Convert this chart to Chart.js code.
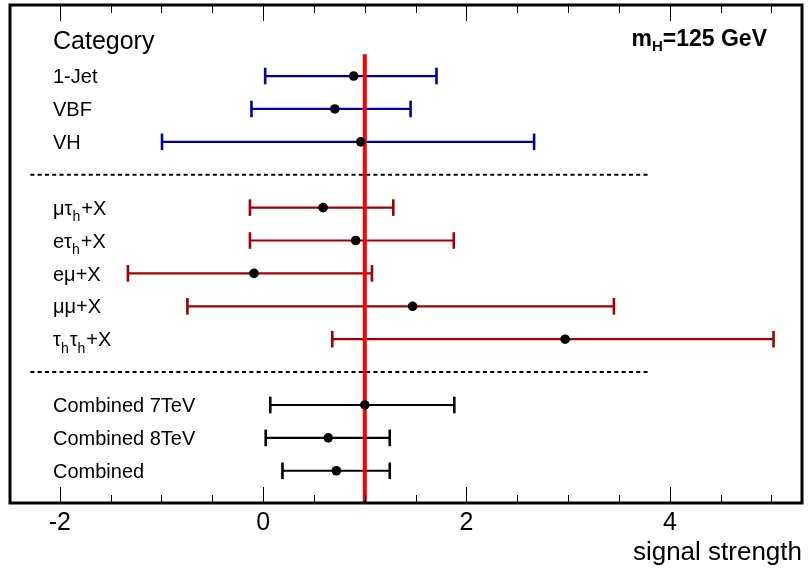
<!DOCTYPE html>
<html><head><meta charset="utf-8">
<script src="https://cdn.jsdelivr.net/npm/chart.js@4/dist/chart.umd.min.js"></script>
<style>html,body{margin:0;padding:0;background:#fff}#wrap{width:810px;height:574px;position:relative}</style>
</head><body><div id="wrap"><canvas id="c" width="810" height="574"></canvas></div>
<script>
// ---- data ----
const categories = ['1-Jet','VBF','VH','μτ_h+X','eτ_h+X','eμ+X','μμ+X','τ_hτ_h+X','Combined 7TeV','Combined 8TeV','Combined'];
const rowIndex   = [1,2,3,5,6,7,8,9,11,12,13];
const central    = [0.89, 0.705, 0.96, 0.59, 0.91, -0.09, 1.47, 2.97, 1.00, 0.64, 0.72];
const lower      = [0.02, -0.115, -0.995, -0.13, -0.13, -1.33, -0.745, 0.68, 0.07, 0.025, 0.19];
const upper      = [1.705, 1.45, 2.665, 1.28, 1.875, 1.07, 3.45, 5.02, 1.88, 1.245, 1.245];
const groupOf    = ['jet','jet','jet','chan','chan','chan','chan','chan','comb','comb','comb'];
const separatorRows = [4, 10];
const tickValues = [-2,-1.5,-1,-0.5,0,0.5,1,1.5,2,2.5,3,3.5,4,4.5,5];
const tickLabels = ['-2','0','2','4'];
const labeledTicks = [-2,0,2,4];
const smReference = 1;
const headerText = 'Category';
const xTitle = 'signal strength';

const colors = {jet:'#0000a0', chan:'#a00000', comb:'#000000'};
const FONT = '"Liberation Sans", Arial, Helvetica, sans-serif';

const datasets = [];
// central values (on top)
datasets.push({
  type:'scatter', order:0,
  data: central.map((v,i)=>({x:v, y:rowIndex[i]})),
  pointStyle:'circle', pointRadius:4.8, backgroundColor:'#000', borderWidth:0
});
// SM reference line
datasets.push({
  type:'line', order:1, showLine:true,
  data:[{x:smReference,y:0.34},{x:smReference,y:13.98}],
  borderColor:'#ff0000', borderWidth:4, pointRadius:0, fill:false
});
// error bars
central.forEach((v,i)=>{
  const c = colors[groupOf[i]];
  datasets.push({
    type:'line', order:2, showLine:true,
    data:[{x:lower[i],y:rowIndex[i]},{x:upper[i],y:rowIndex[i]}],
    borderColor:c, borderWidth:2.2, fill:false,
    pointStyle:'line', pointRotation:90, pointRadius:8.3,
    pointBorderColor:c, pointBorderWidth:2.6, pointBackgroundColor:c
  });
});
// separators
separatorRows.forEach(r=>{
  datasets.push({
    type:'line', order:3, showLine:true,
    data:[{x:-2.29,y:r},{x:3.79,y:r}],
    borderColor:'#000', borderWidth:2, borderDash:[4,3.3], pointRadius:0, fill:false
  });
});

function drawRich(ctx, text, x, y, size){
  const parts = text.split('_h');
  let cx = x;
  parts.forEach((p,i)=>{
    ctx.font = size+'px '+FONT;
    ctx.fillText(p, cx, y);
    cx += ctx.measureText(p).width;
    if(i<parts.length-1){
      ctx.font = (size*0.7)+'px '+FONT;
      ctx.fillText('h', cx, y+6.5);
      cx += ctx.measureText('h').width + 1;
    }
  });
}

const decor = {
  id:'decor',
  afterDraw(chart){
    const {ctx, chartArea:a, scales:{x,y}} = chart;
    ctx.save();
    // tick marks (inside, top and bottom)
    ctx.strokeStyle='#000'; ctx.lineWidth=1;
    tickValues.forEach(v=>{
      const px = Math.round(x.getPixelForValue(v))+0.5;
      const len = (Math.abs(v%2) < 1e-9) ? 16 : 8;
      ctx.beginPath();
      ctx.moveTo(px, a.bottom); ctx.lineTo(px, a.bottom-len);
      ctx.moveTo(px, a.top); ctx.lineTo(px, a.top+len);
      ctx.stroke();
    });
    // frame
    ctx.lineWidth=3;
    ctx.strokeRect(a.left, a.top, a.right-a.left, a.bottom-a.top);
    // labels
    ctx.fillStyle='#000'; ctx.textBaseline='alphabetic'; ctx.textAlign='left';
    ctx.font = '25px '+FONT;
    ctx.fillText(headerText, 53, y.getPixelForValue(0)+5.5);
    categories.forEach((t,i)=>{
      drawRich(ctx, t, 53, y.getPixelForValue(rowIndex[i])+7.2, 20);
    });
    // m_H label (bold, right aligned)
    const big = 'bold 23px '+FONT, small = 'bold 15px '+FONT;
    ctx.font = big;
    const s1='m', s2='H', s3='=125 GeV';
    const w1=ctx.measureText(s1).width, w3=ctx.measureText(s3).width;
    ctx.font = small;
    const w2=ctx.measureText(s2).width;
    let sx = 767 - (w1+w2+w3);
    const by = 46;
    ctx.font = big; ctx.fillText(s1, sx, by); sx+=w1;
    ctx.font = small; ctx.fillText(s2, sx, by+5); sx+=w2;
    ctx.font = big; ctx.fillText(s3, sx, by);
    ctx.restore();
  }
};

new Chart(document.getElementById('c'), {
  type:'scatter',
  data:{datasets},
  options:{
    responsive:false, animation:false, devicePixelRatio:1, events:[],
    layout:{autoPadding:false, padding:{left:10,right:8,top:5,bottom:0}},
    plugins:{legend:{display:false}, tooltip:{enabled:false}},
    scales:{
      x:{
        type:'linear', position:'bottom', min:-2.49, max:5.30,
        afterBuildTicks:(s)=>{ s.ticks = tickValues.map(v=>({value:v})); },
        afterFit:(s)=>{ s.height = 71; },
        grid:{display:false, drawTicks:false},
        border:{display:false},
        ticks:{
          autoSkip:false, maxRotation:0, padding:6, color:'#000',
          font:{family:FONT, size:25, lineHeight:1.1},
          callback:(v)=>{ const k = labeledTicks.findIndex(t=>Math.abs(t-v)<1e-9); return k>=0 ? tickLabels[k] : ''; }
        },
        title:{display:true, text:xTitle, align:'end', color:'#000',
          font:{family:FONT, size:26, lineHeight:1.2}, padding:{top:0,bottom:6}}
      },
      y:{type:'linear', min:-1.16, max:13.98, reverse:true, display:false}
    }
  },
  plugins:[decor]
});
</script>
</body></html>
